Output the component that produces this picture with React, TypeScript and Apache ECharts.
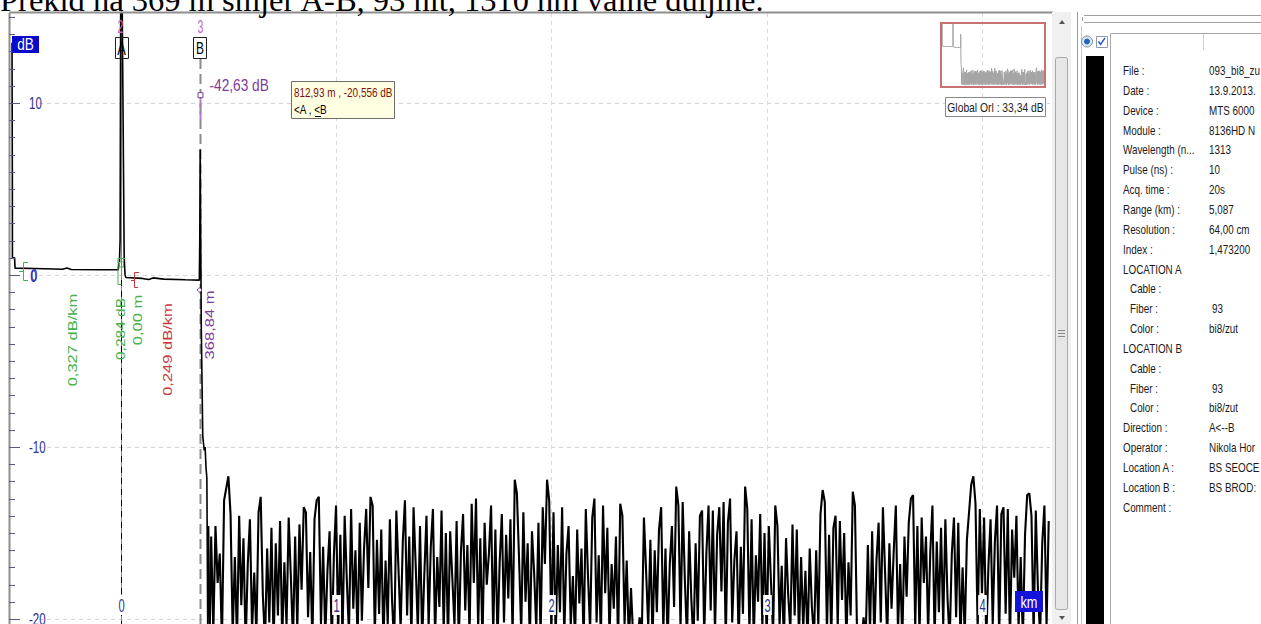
import React, { useEffect, useRef } from "react";
import * as echarts from "echarts";

const TITLE = "Prekid na 369 m smjer A-B, 93 nit, 1310 nm valne duljine.";

const X_RANGE = [-0.519, 4.316];
const Y_RANGE = [-20.29, 15.23];
const MINI_Y_RANGE = [-22, 13];

const Y_MAJOR = [10, 0, -10, -20];
const Y_LABELS = ["10", "0", "-10", "-20"];
const X_TICKS = [0, 1, 2, 3, 4];
const X_LABELS = ["0", "1", "2", "3", "4"];

// events part of the OTDR trace: [km, dB]
const TRACE_EVENTS: [number, number][] = [
  [-0.505, 13.5], [-0.5035, 6.0], [-0.503, 1.0], [-0.493, 1.0], [-0.491, 0.4],
  [-0.4, 0.38], [-0.27, 0.33], [-0.25, 0.4], [-0.23, 0.32], [-0.1, 0.3], [-0.012, 0.3],
  [-0.006, 0.8], [-0.003, 2.0], [0.0, 17.0], [0.006, 17.0], [0.016, 1.0], [0.02, 0.0],
  [0.024, -0.15], [0.1, -0.2], [0.13, -0.26], [0.15, -0.17], [0.2, -0.24], [0.3, -0.28],
  [0.365, -0.3], [0.367, 2.0], [0.369, 7.3], [0.371, 3.0], [0.374, -3.0], [0.381, -9.4],
  [0.388, -10.2], [0.392, -10.0], [0.396, -11.2], [0.4, -11.8], [0.404, -20.6],
  [0.408, -14.6], [0.413, -21.0],
];

// backscatter noise after the break, sampled every 10 m from 0.42 km
const NOISE_START_KM = 0.42;
const NOISE_STEP_KM = 0.01;
const NOISE_DB = [
  -15.2, -20.8, -14.6, -17.9, -16.2, -21.4, -13.1, -12.4, -11.7, -13.9,
  -20.9, -16.4, -21.3, -14.0, -19.2, -15.3, -21.6, -16.8, -14.2, -20.7,
  -17.3, -21.0, -13.8, -12.9, -18.6, -21.4, -15.9, -20.2, -14.7, -21.5,
  -15.6, -19.8, -14.3, -21.2, -16.7, -20.4, -14.1, -17.5, -21.3, -15.2,
  -20.6, -14.5, -18.3, -13.5, -13.8, -19.9, -16.1, -21.4, -14.2, -13.1,
  -12.9, -20.3, -15.8, -21.1, -17.2, -14.9, -21.5, -16.3, -13.4, -20.8,
  -15.1, -21.2, -14.0, -17.7, -20.9, -13.6, -19.4, -16.0, -21.3, -14.4,
  -20.1, -15.9, -13.6, -18.2, -12.9, -13.4, -21.0, -15.4, -19.7, -14.8,
  -21.4, -16.6, -20.3, -14.2, -18.9, -21.5, -13.7, -17.1, -20.6, -15.5,
  -13.1, -19.8, -15.2, -21.2, -13.5, -16.9, -20.7, -14.6, -21.3, -17.4,
  -14.0, -20.5, -15.8, -13.6, -21.1, -16.4, -19.3, -13.7, -20.8, -15.0,
  -21.3, -14.9, -17.6, -20.4, -14.3, -21.5, -16.1, -13.9, -19.5, -15.7,
  -21.0, -13.3, -17.9, -13.0, -20.6, -15.3, -21.4, -14.4, -18.0, -16.2,
  -13.4, -20.9, -14.8, -21.3, -16.7, -13.9, -20.2, -15.1, -18.8, -14.2,
  -21.1, -11.9, -12.7, -16.5, -20.8, -13.8, -19.0, -15.6, -21.4, -14.9,
  -17.3, -20.6, -14.4, -21.2, -13.5, -16.8, -11.9, -13.1, -20.9, -13.8,
  -21.2, -15.7, -19.6, -13.5, -21.0, -16.2, -14.6, -20.4, -17.5, -21.3,
  -14.8, -19.1, -15.9, -21.4, -13.6, -17.4, -20.7, -14.1, -13.0, -20.2,
  -16.3, -21.2, -13.4, -18.5, -14.7, -21.0, -16.8, -19.4, -15.2, -21.5,
  -13.3, -14.0, -20.3, -16.6, -21.4, -18.2, -21.1, -20.8, -21.3, -19.9,
  -21.0, -14.1, -17.2, -20.5, -15.4, -21.3, -16.0, -19.6, -14.8, -13.5,
  -20.7, -15.9, -21.4, -16.8, -14.6, -19.3, -12.3, -13.4, -20.6, -13.2,
  -17.7, -21.2, -14.9, -18.8, -21.5, -15.6, -20.1, -14.0, -13.7, -21.0,
  -16.2, -13.4, -19.5, -13.7, -20.8, -15.1, -13.5, -18.4, -13.2, -21.3,
  -14.4, -13.0, -20.2, -16.6, -14.9, -21.4, -15.8, -19.7, -12.3, -13.6,
  -20.9, -14.2, -21.3, -16.3, -19.0, -13.9, -20.5, -15.0, -21.2, -14.6,
  -17.8, -21.0, -13.4, -14.6, -20.4, -16.9, -21.5, -15.3, -18.6, -20.7,
  -14.5, -19.8, -14.8, -21.2, -16.4, -20.6, -17.2, -21.4, -15.9, -19.3,
  -21.1, -16.0, -20.4, -13.9, -12.5, -13.2, -20.8, -15.1, -21.3, -14.7,
  -14.0, -20.5, -14.3, -18.9, -15.0, -21.4, -16.7, -19.8, -12.6, -13.4,
  -21.0, -20.6, -21.4, -19.9, -21.2, -15.7, -20.8, -14.9, -21.3, -16.6,
  -14.4, -20.2, -13.5, -17.3, -21.1, -15.6, -19.4, -16.1, -13.4, -20.7,
  -16.8, -21.3, -15.2, -18.7, -14.4, -13.0, -12.8, -20.5, -14.6, -21.0,
  -14.1, -17.9, -15.2, -20.8, -16.1, -13.4, -21.2, -15.5, -19.6, -14.7,
  -20.4, -14.2, -18.8, -21.3, -16.2, -14.1, -19.9, -14.4, -21.2, -17.0,
  -21.0, -15.4, -13.8, -12.2, -11.7, -13.3, -20.6, -13.6, -18.5, -14.1,
  -21.3, -16.9, -14.2, -20.3, -15.5, -13.4, -21.1, -13.9, -13.5, -19.7,
  -13.6, -21.4, -14.8, -17.6, -14.0, -20.5, -16.4, -21.2, -15.1, -12.8,
  -12.7, -14.0, -20.9, -13.7, -18.3, -21.0, -15.6, -13.4, -20.4, -14.3,
];

const MARKER_A_KM = 0;
const MARKER_B_KM = 0.36884;
const CURSOR_DB = 10.45;

const MARKER_B_TEXT = "-42,63 dB";
const SLOPE_A_TEXT = "0,327 dB/km";
const LOSS_A_TEXT = "0,284 dB";
const DIST_A_TEXT = "0,00 m";
const SLOPE_B_TEXT = "0,249 dB/km";
const DIST_B_TEXT = "368,84 m";
const TIP_LINE1 = "812,93 m , -20,556 dB";
const TIP_LINE2 = "<A , <B";
const ORL_TEXT = "Global Orl : 33,34 dB";

const INFO_LABELS = [
  "File :", "Date :", "Device :", "Module :", "Wavelength (n...", "Pulse (ns) :",
  "Acq. time :", "Range (km) :", "Resolution :", "Index :", "LOCATION A", "Cable :",
  "Fiber :", "Color :", "LOCATION B", "Cable :", "Fiber :", "Color :", "Direction :",
  "Operator :", "Location A :", "Location B :", "Comment :",
];
const INFO_VALUES = [
  "093_bi8_zu", "13.9.2013.", "MTS 6000", "8136HD N", "1313", "10", "20s", "5,087",
  "64,00 cm", "1,473200", "", "", "93", "bi8/zut", "", "", "93", "bi8/zut", "A<--B",
  "Nikola Hor", "BS SEOCE", "BS BROD:", "",
];
const INDENTED = ["Cable :", "Fiber :", "Color :"];

const FONT = '"Liberation Sans", Arial, sans-serif';

function txt(x: number, y: number, text: string, o: any = {}) {
  return {
    type: "text",
    x,
    y,
    z: o.z ?? 30,
    scaleX: o.sx ?? 1,
    scaleY: o.sy ?? 1,
    rotation: o.rot ?? 0,
    silent: true,
    style: {
      text,
      fill: o.fill ?? "#000",
      font: `${o.size ?? 14}px ${o.family ?? FONT}`,
      textAlign: o.align ?? "left",
      textVerticalAlign: o.va ?? "middle",
      align: o.align ?? "left",
      verticalAlign: o.va ?? "middle",
      backgroundColor: o.bg,
      padding: o.pad,
    },
  };
}
function ln(x1: number, y1: number, x2: number, y2: number, stroke: string, w = 1, dash?: number[], z = 5) {
  return { type: "line", z, silent: true, shape: { x1, y1, x2, y2 }, style: { stroke, lineWidth: w, lineDash: dash } };
}
function rc(x: number, y: number, w: number, h: number, fill: any, stroke?: string, lw = 1, z = 5, r = 0) {
  return { type: "rect", z, silent: true, shape: { x, y, width: w, height: h, r }, style: { fill, stroke, lineWidth: lw } };
}
function pl(points: number[][], stroke: string, w = 1, z = 25) {
  return { type: "polyline", z, silent: true, shape: { points }, style: { stroke, fill: null, lineWidth: w } };
}

export default function App() {
  const ref = useRef<HTMLDivElement>(null);

  useEffect(() => {
    if (!ref.current) return;
    const chart = echarts.init(ref.current, undefined, { renderer: "svg" });

    const noise = NOISE_DB.map((v, i) => [NOISE_START_KM + i * NOISE_STEP_KM, v]);
    const events = TRACE_EVENTS.map((p) => [p[0], p[1]]);
    const noiseJoined = [events[events.length - 1], ...noise];
    const trace = [...events, ...noise];

    const hiddenAxis = {
      type: "value",
      axisLine: { show: false },
      axisTick: { show: false },
      axisLabel: { show: false },
      splitLine: { show: false },
    };
    const lineSeries = (data: any[], axis: number, color: string, width: number) => ({
      type: "line",
      xAxisIndex: axis,
      yAxisIndex: axis,
      data,
      showSymbol: false,
      silent: true,
      clip: true,
      z: 10,
      lineStyle: { color, width },
    });

    chart.setOption({
      animation: false,
      backgroundColor: "#ffffff",
      grid: [
        { left: 9, top: 13, width: 1041, height: 611 },
        { left: 942, top: 24, width: 102, height: 62 },
      ],
      xAxis: [
        { ...hiddenAxis, gridIndex: 0, min: X_RANGE[0], max: X_RANGE[1] },
        { ...hiddenAxis, gridIndex: 1, min: X_RANGE[0], max: X_RANGE[1] },
      ],
      yAxis: [
        { ...hiddenAxis, gridIndex: 0, min: Y_RANGE[0], max: Y_RANGE[1] },
        { ...hiddenAxis, gridIndex: 1, min: MINI_Y_RANGE[0], max: MINI_Y_RANGE[1] },
      ],
      series: [
        lineSeries(events, 0, "#000000", 1.6),
        lineSeries(noiseJoined, 0, "#000000", 2.1),
        lineSeries(trace, 1, "#a6a6a6", 1),
      ],
    });

    const P = (x: number, y: number) => chart.convertToPixel({ gridIndex: 0 }, [x, y]) as number[];
    const left = P(X_RANGE[0], 0)[0];
    const right = P(X_RANGE[1], 0)[0];
    const top = P(0, Y_RANGE[1])[1];
    const bottom = P(0, Y_RANGE[0])[1];
    const g: any[] = [];

    // title
    g.push(txt(0, -0.5, TITLE, { size: 32.5, family: '"Liberation Serif", "Times New Roman", serif', z: 40 }));

    // frame
    g.push(ln(left, top - 0.5, right + 3, top - 0.5, "#8e8e8e", 2, undefined, 20));
    g.push(ln(left + 0.5, top, left + 0.5, bottom, "#8e8e8e", 2, undefined, 20));

    // y grid + ticks + labels
    Y_MAJOR.forEach((v, i) => {
      const y = Math.round(P(0, v)[1]) + 0.5;
      g.push(ln(left + 30, y, right, y, "#d3d3dc", 1, [4, 4], 2));
      g.push(ln(left, y, left + 11, y, "#5a5a7a", 1, undefined, 20));
      g.push(txt(left + (Y_LABELS[i].length > 1 ? 20 : 22), y, Y_LABELS[i], { size: 16, sx: 0.72, fill: "#2e3192" }));
    });
    for (let v = Math.ceil(Y_RANGE[0]); v <= Math.floor(Y_RANGE[1]); v++) {
      const y = Math.round(P(0, v)[1]) + 0.5;
      g.push(ln(left, y, left + 6, y, "#5a5a7a", 1, undefined, 20));
    }

    // x grid + labels
    X_TICKS.forEach((k, i) => {
      const x = Math.round(P(k, 0)[0]) + 0.5;
      if (k !== MARKER_A_KM) g.push(ln(x, top, x, bottom, "#d6d6e0", 1, [4, 4], 2));
      g.push(txt(x, 605, X_LABELS[i], { size: 18, sx: 0.62, fill: "#2e3192", align: "center", bg: "#ffffff", pad: [1, 2], z: 32 }));
    });

    // unit boxes
    g.push(rc(left + 3, 36, 27, 17, "#0a0acc", undefined, 1, 31));
    g.push(txt(left + 16.5, 44.5, "dB", { size: 16, sx: 0.85, fill: "#ffffff", align: "center", z: 33 }));
    g.push(rc(right - 35, 591, 28, 21, "#1414d8", undefined, 1, 31));
    g.push(txt(right - 21, 601.5, "km", { size: 17, sx: 0.75, fill: "#ffffff", align: "center", z: 33 }));

    // marker A
    const ax = Math.round(P(MARKER_A_KM, 0)[0]) + 0.5;
    g.push(ln(ax, 0, ax, bottom, "#49b04c", 1, undefined, 4));
    g.push(ln(ax, 280, ax, bottom, "#000000", 1, [6, 5], 6));
    g.push(rc(ax - 6, 37.5, 13, 21, null, "#202020", 1, 26));
    g.push(txt(ax, 48.5, "A", { size: 18, sx: 0.72, align: "center", z: 27 }));
    g.push(txt(ax - 1, 26, "2", { size: 19, sx: 0.55, fill: "#c565c9", align: "center" }));

    // marker B
    const bx = Math.round(P(MARKER_B_KM, 0)[0]) + 0.5;
    const cy = P(MARKER_B_KM, CURSOR_DB)[1];
    g.push(ln(bx, 59, bx, bottom, "#8a8a8a", 2, [10, 5], 6));
    g.push(ln(bx, cy + 4, bx, cy + 26, "#b57ac4", 2, [8, 4], 7));
    g.push(rc(bx - 7, 37.5, 13, 21, null, "#202020", 1, 26));
    g.push(txt(bx - 0.5, 48.5, "B", { size: 17, sx: 0.7, align: "center", z: 27 }));
    g.push(txt(bx, 26, "3", { size: 19, sx: 0.55, fill: "#c565c9", align: "center" }));
    g.push(rc(bx - 2.5, cy - 2.5, 5, 5, "#ffffff", "#7d3c98", 1, 28));
    g.push(txt(bx + 9, 85, MARKER_B_TEXT, { size: 16.5, sx: 0.83, fill: "#7d3c98" }));
    g.push({ type: "circle", z: 28, silent: true, shape: { cx: bx - 1, cy: 290, r: 2 }, style: { fill: "#fff", stroke: "#7d3c98", lineWidth: 1 } });

    // section brackets
    g.push(pl([[28, 262.5], [23.5, 262.5], [23.5, 280.5], [28, 280.5]], "#46b04a"));
    g.push(pl([[19, 271.5], [23.5, 271.5]], "#46b04a"));
    g.push(txt(33.5, 276.5, "0", { size: 16, sx: 0.72, fill: "#2424c8", align: "center", z: 31 }));
    g.push(pl([[ax + 4, 258.5], [ax - 3.5, 258.5], [ax - 3.5, 284.5], [ax, 284.5]], "#46b04a"));
    g.push(rc(ax - 2, 262, 4, 5, null, "#46b04a", 1, 25));
    g.push(pl([[139, 272.5], [134.5, 272.5], [134.5, 287.5], [138, 287.5]], "#c8383c"));
    g.push(pl([[134.5, 280.5], [131, 280.5]], "#c8383c"));

    // rotated measurement texts
    const rot = { rot: Math.PI / 2, size: 16.5, sy: 0.8, align: "center" };
    g.push(txt(72, 340, SLOPE_A_TEXT, { ...rot, fill: "#46b04a" }));
    g.push(txt(ax - 1, 329, LOSS_A_TEXT, { ...rot, size: 15.5, fill: "#46b04a" }));
    g.push(txt(137, 320, DIST_A_TEXT, { ...rot, fill: "#46b04a" }));
    g.push(txt(167.5, 349.5, SLOPE_B_TEXT, { ...rot, fill: "#c8383c" }));
    g.push(txt(bx + 8.5, 325, DIST_B_TEXT, { ...rot, fill: "#7d3c98" }));

    // cursor tooltip
    g.push(rc(291.5, 81.5, 103, 37, "#ffffe1", "#6e6e6e", 1, 34));
    g.push(txt(294, 93, TIP_LINE1, { size: 12, sx: 0.83, fill: "#7b1010", z: 35 }));
    g.push(txt(294, 110, TIP_LINE2, { size: 12, sx: 0.83, fill: "#000", z: 35 }));
    g.push(ln(315, 116.5, 321, 116.5, "#000", 1, undefined, 35));

    // minimap + ORL
    g.push(rc(941, 23, 104, 64, null, "#c87272", 2, 20));
    g.push(rc(945.5, 97.5, 100, 19, "#ffffff", "#8a8a8a", 1, 20));
    g.push(txt(995.5, 107.5, ORL_TEXT, { size: 12, sx: 0.86, align: "center", fill: "#222" }));

    // scrollbar
    g.push(rc(1052, 12, 19, 612, "#f0f0f0", undefined, 1, 20));
    g.push({ type: "polygon", z: 22, silent: true, shape: { points: [[1059, 24], [1065, 24], [1062, 20]] }, style: { fill: "#555" } });
    g.push(rc(1055.5, 57.5, 12, 552, "#e6e6e6", "#a9a9a9", 1, 21, 2));
    g.push(ln(1058, 330.5, 1065, 330.5, "#8a8a8a", 1, undefined, 22));
    g.push(ln(1058, 333.5, 1065, 333.5, "#8a8a8a", 1, undefined, 22));
    g.push(ln(1058, 336.5, 1065, 336.5, "#8a8a8a", 1, undefined, 22));
    g.push({ type: "polygon", z: 22, silent: true, shape: { points: [[1059, 616], [1065, 616], [1062, 620]] }, style: { fill: "#555" } });

    // right panel
    g.push(rc(1071, 12, 190, 612, "#ffffff", undefined, 1, 19));
    g.push(ln(1077.5, 12, 1077.5, 624, "#9a9a9a", 1, undefined, 21));
    g.push(ln(1081.5, 26, 1081.5, 624, "#c8c8c8", 1, undefined, 21));
    g.push(ln(1084, 15.5, 1261, 15.5, "#a0a0a0", 1, undefined, 21));
    g.push(ln(1084, 22.5, 1261, 22.5, "#a0a0a0", 1, undefined, 21));
    g.push(ln(1082.5, 17, 1082.5, 21, "#a0a0a0", 1, undefined, 21));
    g.push({ type: "circle", z: 22, silent: true, shape: { cx: 1087, cy: 41.5, r: 5.5 }, style: { fill: "#dfe6ee", stroke: "#7d8d9e", lineWidth: 1 } });
    g.push({ type: "circle", z: 23, silent: true, shape: { cx: 1087, cy: 41.5, r: 3 }, style: { fill: "#1d66c0" } });
    g.push(rc(1096.5, 36.5, 11, 11, "#ffffff", "#8a9ab0", 1, 22));
    g.push(pl([[1098.5, 41.5], [1100.5, 44.5], [1105, 38]], "#2a5fc0", 1.5, 23));
    g.push(rc(1086, 56, 18, 568, "#000000", undefined, 1, 22));
    g.push(rc(1110.5, 33.5, 160, 600, "#ffffff", "#a8a8a8", 1, 22));
    g.push(ln(1203.5, 34, 1203.5, 50, "#d0d0d0", 1, undefined, 23));

    const ROW0 = 70.5;
    const ROW_H = 19.85;
    INFO_LABELS.forEach((lab, i) => {
      const y = ROW0 + i * ROW_H;
      const indent = INDENTED.includes(lab) ? 7 : 0;
      g.push(txt(1123 + indent, y, lab, { size: 13, sx: 0.76, fill: "#1a1a1a", z: 24 }));
      if (INFO_VALUES[i]) {
        const vIndent = INFO_VALUES[i] === "93" ? 3 : 0;
        g.push(txt(1209 + vIndent, y, INFO_VALUES[i], { size: 13, sx: 0.76, fill: "#1a1a1a", z: 24 }));
      }
    });

    chart.setOption({ graphic: { elements: g } });

    return () => chart.dispose();
  }, []);

  return (
    <div
      ref={ref}
      style={{ position: "fixed", left: 0, top: 0, width: 1261, height: 624, background: "#fff" }}
    />
  );
}
